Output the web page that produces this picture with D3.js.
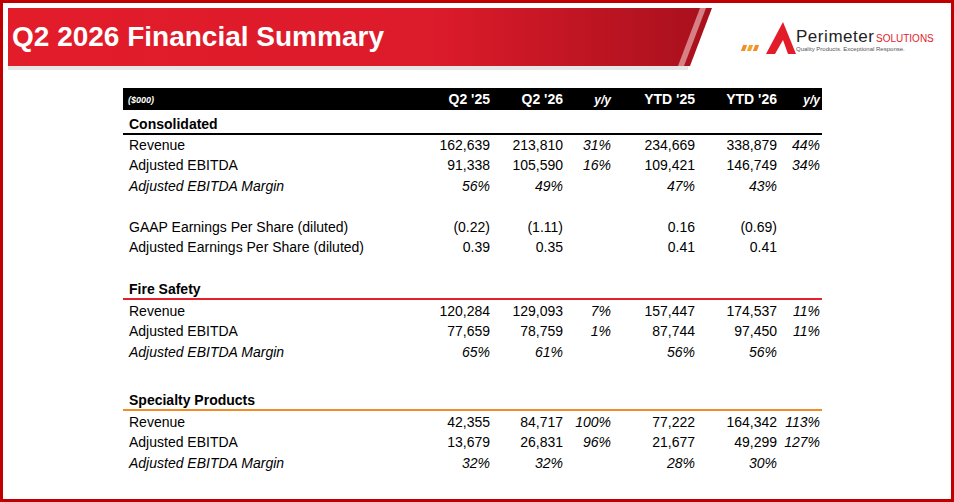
<!DOCTYPE html>
<html><head><meta charset="utf-8">
<script src="https://cdn.jsdelivr.net/npm/d3@7"></script>
<style>body{margin:0;background:#fff}svg{display:block;font-family:"Liberation Sans",Arial,sans-serif}</style>
</head><body><svg id="c" width="954" height="502"></svg>
<script>
const columns = ["Q2 '25","Q2 '26","y/y","YTD '25","YTD '26","y/y"];
const sections = ["Consolidated","Fire Safety","Specialty Products"];
const sectionColors = ["#000000","#e3202e","#f28c28"];
const rowLabels = ["Revenue","Adjusted EBITDA","Adjusted EBITDA Margin","","GAAP Earnings Per Share (diluted)","Adjusted Earnings Per Share (diluted)",
 "Revenue","Adjusted EBITDA","Adjusted EBITDA Margin","Revenue","Adjusted EBITDA","Adjusted EBITDA Margin"];
const rowSection = [0,0,0,0,0,0,1,1,1,2,2,2];
const rowItalic = [0,0,1,0,0,0,0,0,1,0,0,1];
const rowValues = [
 ["162,639","213,810","31%","234,669","338,879","44%"],
 ["91,338","105,590","16%","109,421","146,749","34%"],
 ["56%","49%","","47%","43%",""],
 ["","","","","",""],
 ["(0.22)","(1.11)","","0.16","(0.69)",""],
 ["0.39","0.35","","0.41","0.41",""],
 ["120,284","129,093","7%","157,447","174,537","11%"],
 ["77,659","78,759","1%","87,744","97,450","11%"],
 ["65%","61%","","56%","56%",""],
 ["42,355","84,717","100%","77,222","164,342","113%"],
 ["13,679","26,831","96%","21,677","49,299","127%"],
 ["32%","32%","","28%","30%",""]
];
const colRight = [490,563,611,695,777,820];
const rowY = [145,165,186,207,227,247,311,331,352,422,442,463];
const sectionY = [124,289,400];

const svg = d3.select("#c");
const defs = svg.append("defs");
const g = defs.append("linearGradient").attr("id","bg").attr("x1",0).attr("x2",1);
g.append("stop").attr("offset","0").attr("stop-color","#e31c2a");
g.append("stop").attr("offset","0.6").attr("stop-color","#dc1b2b");
g.append("stop").attr("offset","1").attr("stop-color","#a8101c");
svg.append("rect").attr("x",8).attr("y",66).attr("width",680).attr("height",4).attr("fill","#e6e6e6");
svg.append("path").attr("d","M8,8 L712,8 L690,66 L8,66 Z").attr("fill","url(#bg)");
svg.append("path").attr("d","M700,8 L706,8 L684,66 L678,66Z").attr("fill","#f3c9cc").attr("opacity",0.6);
svg.append("text").attr("x",12).attr("y",46).attr("fill","#fff").attr("font-size",28).attr("font-weight","bold").text("Q2 2026 Financial Summary");
// logo
svg.append("path").attr("d","M766,54 L783,22 L796,54 L788,54 L783,40 L775,54 Z").attr("fill","#e31c2a");
[[742,"#f28c28"],[748,"#f5a623"],[754,"#f28c28"]].forEach(([x,c])=>svg.append("rect").attr("x",x).attr("y",45).attr("width",4).attr("height",6).attr("fill",c).attr("transform",`skewX(-20)`).attr("transform-origin",`${x} 48`));
svg.append("text").attr("x",796).attr("y",42).attr("font-size",17).attr("fill","#222").attr("textLength",78).text("Perimeter");
svg.append("text").attr("x",876).attr("y",42).attr("font-size",10).attr("fill","#e31c2a").text("SOLUTIONS");
svg.append("text").attr("x",796).attr("y",51).attr("font-size",6).attr("fill","#555").text("Quality Products. Exceptional Response.");
svg.append("rect").attr("x",1.5).attr("y",1.5).attr("width",951).attr("height",499).attr("fill","none").attr("stroke","#c00000").attr("stroke-width",3);

// header
svg.append("rect").attr("x",123).attr("y",88).attr("width",699).attr("height",22).attr("fill","#000");
svg.append("text").attr("x",128).attr("y",103).attr("fill","#fff").attr("font-size",9).attr("font-style","italic").attr("font-weight","bold").text("($000)");
svg.selectAll("text.h").data(columns).join("text").attr("class","h")
 .attr("x",(d,i)=>colRight[i]).attr("y",104).attr("text-anchor","end").attr("fill","#fff")
 .attr("font-size",(d,i)=>i==2||i==5?12:14).attr("font-weight","bold").attr("font-style",(d,i)=>i==2||i==5?"italic":"normal").text(d=>d);

sections.forEach((s,i)=>{
  svg.append("text").attr("x",129).attr("y",sectionY[i]+5).attr("font-size",14).attr("font-weight","bold").attr("fill","#000").text(s);
  svg.append("line").attr("x1",123).attr("x2",822).attr("y1",sectionY[i]+10).attr("y2",sectionY[i]+10).attr("stroke",sectionColors[i]).attr("stroke-width",2);
});
rowLabels.forEach((l,r)=>{
  const it = rowItalic[r]?"italic":"normal";
  svg.append("text").attr("x",129).attr("y",rowY[r]+5).attr("font-size",14).attr("font-style",it).text(l);
  rowValues[r].forEach((v,c)=>{
    svg.append("text").attr("x",colRight[c]).attr("y",rowY[r]+5).attr("text-anchor","end").attr("font-size",14)
      .attr("font-style",(c==2||c==5||rowItalic[r])?"italic":"normal").text(v);
  });
});
</script></body></html>
